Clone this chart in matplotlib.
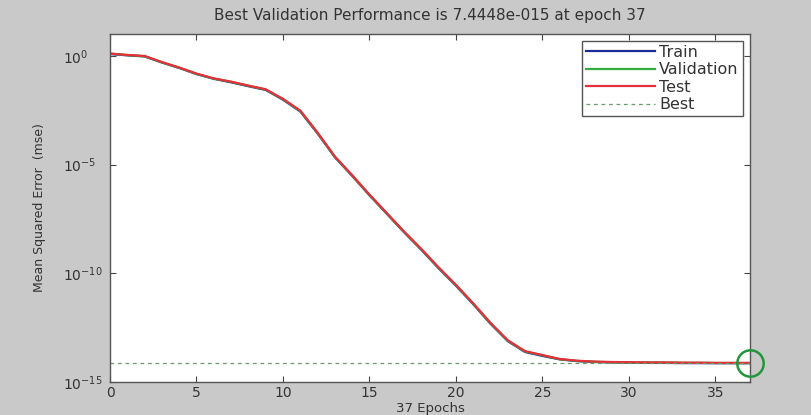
import numpy as np
import matplotlib
matplotlib.use('Agg')
import matplotlib.pyplot as plt
from matplotlib.ticker import LogFormatterSciNotation, NullLocator

# log10(mse) per epoch
epochs = list(range(38))
train_log = [0.08, 0.02, -0.03, -0.31, -0.56, -0.84, -1.06, -1.22, -1.40, -1.57,
             -2.02, -2.56, -3.57, -4.66, -5.52, -6.41, -7.26, -8.11, -8.92, -9.77,
             -10.57, -11.42, -12.32, -13.12, -13.62, -13.80, -13.96, -14.04, -14.08, -14.10,
             -14.11, -14.12, -14.12, -14.13, -14.13, -14.135, -14.136, -14.137]
val_log = [0.10, 0.03, -0.02, -0.30, -0.55, -0.83, -1.05, -1.20, -1.38, -1.55,
           -2.00, -2.54, -3.55, -4.65, -5.50, -6.40, -7.25, -8.10, -8.90, -9.75,
           -10.55, -11.40, -12.30, -13.10, -13.60, -13.77, -13.95, -14.03, -14.07, -14.09,
           -14.10, -14.11, -14.11, -14.12, -14.12, -14.125, -14.127, -14.128]
test_log = [0.10, 0.04, -0.01, -0.29, -0.54, -0.82, -1.04, -1.19, -1.37, -1.54,
            -1.98, -2.52, -3.53, -4.63, -5.49, -6.38, -7.23, -8.08, -8.88, -9.73,
            -10.53, -11.38, -12.28, -13.08, -13.58, -13.76, -13.94, -14.02, -14.06, -14.08,
            -14.09, -14.10, -14.10, -14.11, -14.11, -14.12, -14.12, -14.12]
best_epoch = 37
best_perf = 7.4448e-15

train = 10.0 ** np.array(train_log)
val = 10.0 ** np.array(val_log)
test = 10.0 ** np.array(test_log)

plt.rcParams['font.family'] = ['DejaVu Sans']

fig = plt.figure(figsize=(8.12, 4.15), dpi=100, facecolor='#c9c9c9')
ax = fig.add_axes([0.1355, 0.0795, 0.788, 0.8385])
ax.set_facecolor('white')

ax.semilogy(epochs, train, color='#1c2c96', lw=1.6, label='Train')
ax.semilogy(epochs, val, color='#33ad3f', lw=1.6, label='Validation')
ax.semilogy(epochs, test, color='#e5303a', lw=1.6, label='Test')
ax.axhline(best_perf, color='#6a9a6a', lw=0.9, ls=(0, (3, 3)), label='Best')
ax.plot(best_epoch, best_perf, 'o', ms=19, mfc='none', mec='#22963a', mew=1.8,
        clip_on=False, zorder=5)

ax.set_xlim(0, 37)
ax.set_ylim(1e-15, 10)
ax.set_xticks([0, 5, 10, 15, 20, 25, 30, 35])
ax.set_yticks([1e0, 1e-5, 1e-10, 1e-15])
ax.yaxis.set_major_formatter(LogFormatterSciNotation())
ax.yaxis.set_minor_locator(NullLocator())
ax.tick_params(direction='in', top=True, right=True, length=4, width=0.8,
               color='#444444', labelsize=10, labelcolor='#333333')
ax.tick_params(axis='x', pad=3)
ax.tick_params(axis='y', pad=34)
for lab in ax.get_yticklabels():
    lab.set_horizontalalignment('left')
for s in ax.spines.values():
    s.set_color('#555555')
    s.set_linewidth(1.0)

ax.set_title('Best Validation Performance is 7.4448e-015 at epoch 37',
             fontsize=11, color='#333333', pad=10)
ax.set_xlabel('37 Epochs', fontsize=9.5, color='#333333')
ax.xaxis.set_label_coords(0.5, -0.057)
ax.set_ylabel('Mean Squared Error  (mse)', fontsize=9, color='#333333', labelpad=12)

leg = ax.legend(loc='upper right', bbox_to_anchor=(0.989, 0.98), fontsize=11.5,
                fancybox=False, framealpha=1, edgecolor='#555555',
                handlelength=4.3, handletextpad=0.3, labelspacing=0.15,
                borderpad=0.25, borderaxespad=0)
for t in leg.get_texts():
    t.set_color('#333333')

fig.savefig('out.png', dpi=100, facecolor=fig.get_facecolor())
